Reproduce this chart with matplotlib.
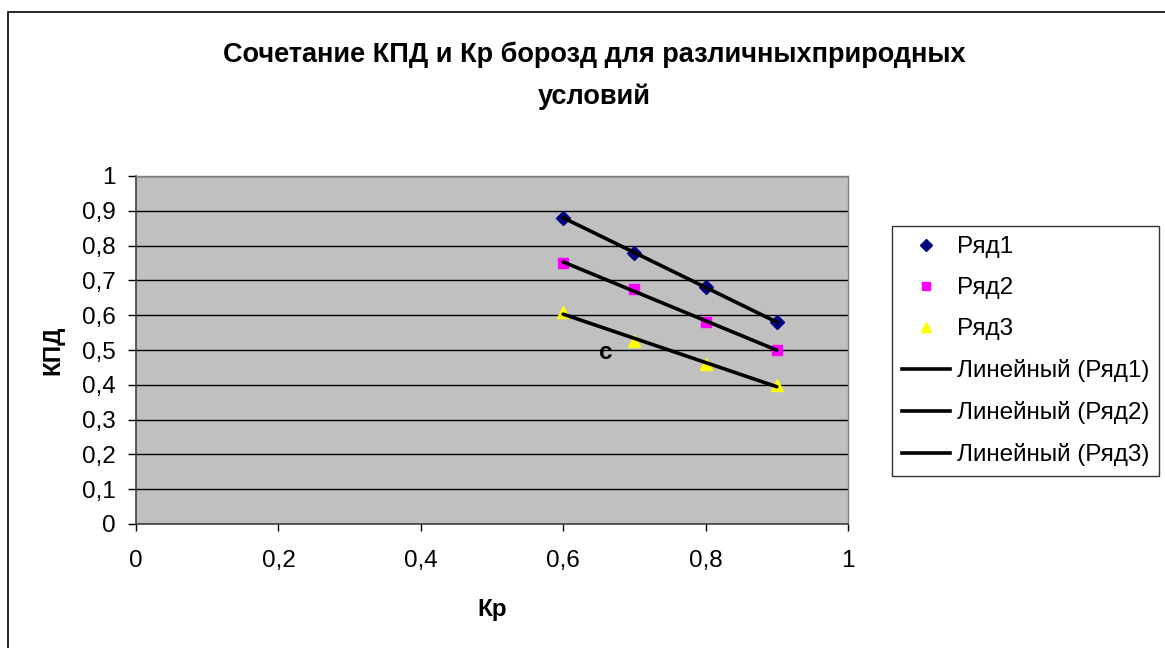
import numpy as np
import matplotlib
matplotlib.use("Agg")
import matplotlib.pyplot as plt
from matplotlib.patches import Rectangle
from matplotlib.lines import Line2D

plt.rcParams['font.family'] = ['Liberation Sans', 'DejaVu Sans']

# Data
kp = [0.6, 0.7, 0.8, 0.9]
ryad1 = [0.88, 0.78, 0.68, 0.58]
ryad2 = [0.75, 0.675, 0.58, 0.50]
ryad3 = [0.61, 0.525, 0.46, 0.40]
series_names = ['Ряд1', 'Ряд2', 'Ряд3']
trend_names = ['Линейный (Ряд1)', 'Линейный (Ряд2)', 'Линейный (Ряд3)']
x_ticks = [0, 0.2, 0.4, 0.6, 0.8, 1.0]
x_ticklabels = ['0', '0,2', '0,4', '0,6', '0,8', '1']
y_ticks = [0, 0.1, 0.2, 0.3, 0.4, 0.5, 0.6, 0.7, 0.8, 0.9, 1.0]
y_ticklabels = ['0', '0,1', '0,2', '0,3', '0,4', '0,5', '0,6', '0,7', '0,8', '0,9', '1']
title = 'Сочетание КПД и Кр борозд для различныхприродных\nусловий'

W, H = 1165, 648
FS = 17.5
fig = plt.figure(figsize=(W / 100, H / 100), dpi=100)
fig.patch.set_facecolor('white')

# outer chart border (cropped on right/bottom)
fig.patches.append(Rectangle((8 / W, -0.1), 2.0, (H - 12) / H + 0.1,
                             transform=fig.transFigure, fill=False,
                             ec='black', lw=1.2, zorder=0))

ax = fig.add_axes([136 / W, 1 - 524 / H, (848 - 136) / W, (524 - 176) / H])
ax.set_facecolor('#C0C0C0')
ax.set_xlim(0, 1)
ax.set_ylim(0, 1)
for s in ['top', 'right']:
    ax.spines[s].set_color('#808080')
    ax.spines[s].set_linewidth(1.0)
for s in ['left', 'bottom']:
    ax.spines[s].set_color('#404040')
    ax.spines[s].set_linewidth(1.2)

ax.set_yticks(y_ticks)
ax.set_yticklabels(y_ticklabels)
ax.set_xticks(x_ticks)
ax.set_xticklabels(x_ticklabels)
ax.tick_params(axis='y', direction='out', length=6, width=1, pad=8.5,
               labelsize=FS, colors='black')
ax.tick_params(axis='x', direction='out', length=5, width=1, pad=14,
               labelsize=FS, colors='black')
ax.yaxis.grid(True, color='black', lw=1.0)
ax.set_axisbelow(True)

markers = ['D', 's', '^']
colors = ['#000080', '#FF00FF', '#FFFF00']
msizes = [7.5, 7.5, 9]
handles = []
for ys, m, c, ms, name in zip([ryad1, ryad2, ryad3], markers, colors, msizes, series_names):
    ax.plot(kp, ys, linestyle='none', marker=m, color=c, markersize=ms,
            markeredgecolor=c, zorder=3, clip_on=False)
    handles.append(Line2D([], [], linestyle='none', marker=m, color=c,
                          markersize=ms * 0.85, markeredgecolor=c, label=name))

for ys, name in zip([ryad1, ryad2, ryad3], trend_names):
    k, b = np.polyfit(kp, ys, 1)
    xs = np.array([min(kp), max(kp)])
    ax.plot(xs, k * xs + b, color='black', lw=2.6, zorder=4,
            solid_capstyle='round')
    handles.append(Line2D([], [], color='black', lw=2.6, label=name))

ax.text(0.66, 0.494, 'c', transform=ax.transAxes, fontsize=FS,
        fontweight='bold', ha='center', va='center')

ax.set_xlabel('Кр', fontsize=FS, fontweight='bold')
ax.xaxis.set_label_coords((492 - 136) / (848 - 136), -(598 - 524) / (524 - 176))
ax.set_ylabel('КПД', fontsize=FS, fontweight='bold')
ax.yaxis.set_label_coords(-(136 - 64) / (848 - 136), (524 - 350) / (524 - 176))

fig.text(594 / W, 1 - 76 / H, title, fontsize=19.5, fontweight='bold',
         ha='center', va='center', linespacing=1.75)

leg = fig.legend(handles=handles, loc='upper left',
                 bbox_to_anchor=(892 / W, 1 - 226 / H),
                 fontsize=FS, frameon=True, fancybox=False,
                 edgecolor='black', handlelength=1.95, handletextpad=0.3,
                 labelspacing=0.78, borderpad=0.42, borderaxespad=0.0)
leg.get_frame().set_linewidth(1.0)

fig.savefig('out.png', dpi=100)
